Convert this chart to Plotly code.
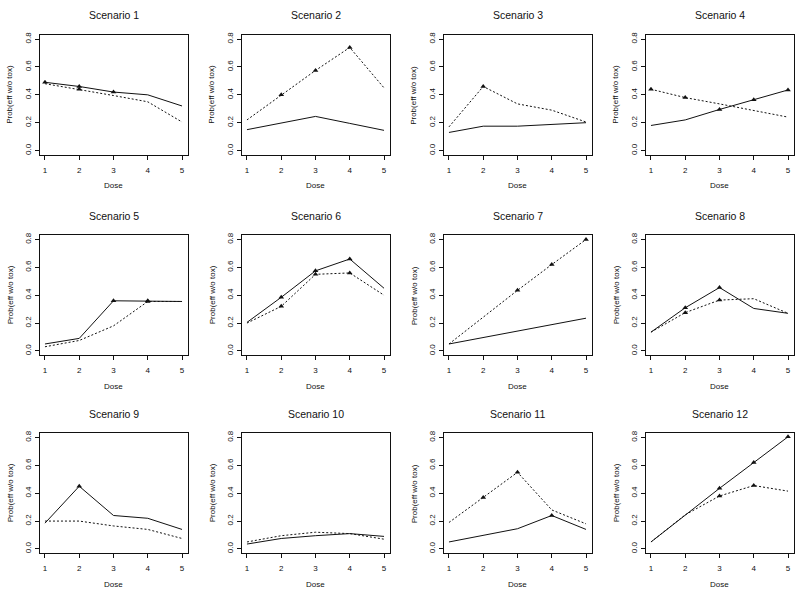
import plotly.graph_objects as go

doses = [1, 2, 3, 4, 5]
x_tick_labels = ["1", "2", "3", "4", "5"]
y_tick_values = [0.0, 0.2, 0.4, 0.6, 0.8]
y_tick_labels = ["0.0", "0.2", "0.4", "0.6", "0.8"]
titles = ["Scenario %d" % i for i in range(1, 13)]

sc1_solid = [0.49, 0.46, 0.42, 0.40, 0.32]
sc1_dotted = [0.48, 0.44, 0.395, 0.35, 0.205]
sc2_solid = [0.15, 0.195, 0.245, 0.195, 0.145]
sc2_dotted = [0.22, 0.40, 0.575, 0.74, 0.45]
sc3_solid = [0.13, 0.175, 0.175, 0.19, 0.20]
sc3_dotted = [0.17, 0.46, 0.335, 0.29, 0.205]
sc4_solid = [0.18, 0.22, 0.295, 0.365, 0.435]
sc4_dotted = [0.44, 0.38, 0.335, 0.29, 0.24]
sc5_solid = [0.05, 0.09, 0.36, 0.36, 0.355]
sc5_dotted = [0.03, 0.075, 0.18, 0.355, 0.355]
sc6_solid = [0.205, 0.385, 0.575, 0.66, 0.45]
sc6_dotted = [0.20, 0.32, 0.55, 0.56, 0.40]
sc7_solid = [0.05, 0.095, 0.14, 0.19, 0.235]
sc7_dotted = [0.05, 0.245, 0.435, 0.62, 0.80]
sc8_solid = [0.135, 0.31, 0.455, 0.305, 0.27]
sc8_dotted = [0.135, 0.275, 0.365, 0.375, 0.27]
sc9_solid = [0.185, 0.45, 0.24, 0.22, 0.14]
sc9_dotted = [0.20, 0.20, 0.165, 0.14, 0.075]
sc10_solid = [0.035, 0.075, 0.095, 0.11, 0.09]
sc10_dotted = [0.05, 0.095, 0.12, 0.11, 0.07]
sc11_solid = [0.05, 0.095, 0.145, 0.24, 0.14]
sc11_dotted = [0.19, 0.37, 0.55, 0.28, 0.18]
sc12_solid = [0.05, 0.245, 0.435, 0.62, 0.805]
sc12_dotted = [0.05, 0.245, 0.38, 0.455, 0.415]

# doses marked with a filled triangle
sc1_solid_tri, sc1_dotted_tri = [1, 2, 3], [2]
sc2_solid_tri, sc2_dotted_tri = [], [2, 3, 4]
sc3_solid_tri, sc3_dotted_tri = [], [2]
sc4_solid_tri, sc4_dotted_tri = [3, 4, 5], [1, 2]
sc5_solid_tri, sc5_dotted_tri = [3, 4], [4]
sc6_solid_tri, sc6_dotted_tri = [2, 3, 4], [2, 3, 4]
sc7_solid_tri, sc7_dotted_tri = [], [3, 4, 5]
sc8_solid_tri, sc8_dotted_tri = [2, 3], [2, 3]
sc9_solid_tri, sc9_dotted_tri = [2], []
sc10_solid_tri, sc10_dotted_tri = [], []
sc11_solid_tri, sc11_dotted_tri = [4], [2, 3]
sc12_solid_tri, sc12_dotted_tri = [3, 4, 5], [3, 4]

solids = [sc1_solid, sc2_solid, sc3_solid, sc4_solid, sc5_solid, sc6_solid,
          sc7_solid, sc8_solid, sc9_solid, sc10_solid, sc11_solid, sc12_solid]
dotteds = [sc1_dotted, sc2_dotted, sc3_dotted, sc4_dotted, sc5_dotted, sc6_dotted,
           sc7_dotted, sc8_dotted, sc9_dotted, sc10_dotted, sc11_dotted, sc12_dotted]
solid_tris = [sc1_solid_tri, sc2_solid_tri, sc3_solid_tri, sc4_solid_tri, sc5_solid_tri,
              sc6_solid_tri, sc7_solid_tri, sc8_solid_tri, sc9_solid_tri, sc10_solid_tri,
              sc11_solid_tri, sc12_solid_tri]
dotted_tris = [sc1_dotted_tri, sc2_dotted_tri, sc3_dotted_tri, sc4_dotted_tri, sc5_dotted_tri,
               sc6_dotted_tri, sc7_dotted_tri, sc8_dotted_tri, sc9_dotted_tri, sc10_dotted_tri,
               sc11_dotted_tri, sc12_dotted_tri]

W, H = 800, 594
FONT = "Liberation Sans, Arial, sans-serif"
INK = "#111111"

# plot box geometry (pixels)
col_left = [39.5 + 202 * c for c in range(4)]
box_w = 148.0
row_zero = [148.3, 349.7, 548.7]  # pixel y of value 0.0
span08 = 112.0                      # pixels for 0.8
px_per = span08 / 0.8
y_lo, y_hi = -0.032, 0.832
x_lo, x_hi = 0.84, 5.16

fig = go.Figure()
layout = dict(
    width=W, height=H, margin=dict(l=0, r=0, t=0, b=0, pad=0),
    paper_bgcolor="white", plot_bgcolor="white", showlegend=False,
    font=dict(family=FONT, color=INK),
)
annotations = []

for i in range(12):
    r, c = divmod(i, 4)
    left = col_left[c]
    right = left + box_w
    top = row_zero[r] - y_hi * px_per
    bottom = row_zero[r] - y_lo * px_per
    k = "" if i == 0 else str(i + 1)
    xa, ya = "x" + k, "y" + k
    layout["xaxis" + k] = dict(
        domain=[left / W, right / W], anchor=ya, range=[x_lo, x_hi],
        tickvals=doses, ticktext=x_tick_labels, ticks="outside", ticklen=4,
        tickwidth=1, tickcolor=INK, showline=True, mirror=True, linecolor=INK,
        linewidth=1, showgrid=False, zeroline=False,
        tickfont=dict(size=8, family=FONT, color=INK), ticklabelstandoff=3,
    )
    layout["yaxis" + k] = dict(
        domain=[1 - bottom / H, 1 - top / H], anchor=xa, range=[y_lo, y_hi],
        tickvals=y_tick_values, ticktext=y_tick_labels, ticks="outside", ticklen=4,
        tickwidth=1, tickcolor=INK, showline=True, mirror=True, linecolor=INK,
        linewidth=1, showgrid=False, zeroline=False, tickangle=-90,
        tickfont=dict(size=8, family=FONT, color=INK),
    )
    fig.add_trace(go.Scatter(x=doses, y=solids[i], mode="lines", xaxis=xa, yaxis=ya,
                             line=dict(color=INK, width=1), hoverinfo="skip"))
    fig.add_trace(go.Scatter(x=doses, y=dotteds[i], mode="lines", xaxis=xa, yaxis=ya,
                             line=dict(color=INK, width=1, dash="2px,2px"), hoverinfo="skip"))
    st = solid_tris[i]
    if st:
        fig.add_trace(go.Scatter(x=st, y=[solids[i][d - 1] for d in st], mode="markers",
                                 xaxis=xa, yaxis=ya,
                                 marker=dict(symbol="triangle-up", size=5, color=INK)))
    dt = dotted_tris[i]
    if dt:
        fig.add_trace(go.Scatter(x=dt, y=[dotteds[i][d - 1] for d in dt], mode="markers",
                                 xaxis=xa, yaxis=ya,
                                 marker=dict(symbol="triangle-up", size=5, color=INK)))
    cx = (left + right) / 2
    annotations.append(dict(text=titles[i], x=cx / W, y=1 - (top - 19.5) / H,
                            xref="paper", yref="paper", showarrow=False,
                            xanchor="center", yanchor="middle",
                            font=dict(size=10.5, family=FONT, color=INK)))
    annotations.append(dict(text="Dose", x=cx / W, y=1 - (bottom + 31) / H,
                            xref="paper", yref="paper", showarrow=False,
                            xanchor="center", yanchor="middle",
                            font=dict(size=8, family=FONT, color=INK)))
    annotations.append(dict(text="Prob(eff w/o tox)", x=(left - 29.5) / W,
                            y=1 - ((top + bottom) / 2) / H,
                            xref="paper", yref="paper", showarrow=False, textangle=-90,
                            xanchor="center", yanchor="middle",
                            font=dict(size=8, family=FONT, color=INK)))

layout["annotations"] = annotations
fig.update_layout(**layout)
fig.write_html(
    "out.html",
    config={"displayModeBar": False},
    post_script="document.body.style.margin='0';document.body.style.padding='0';"
                "document.body.style.overflow='hidden';",
)
